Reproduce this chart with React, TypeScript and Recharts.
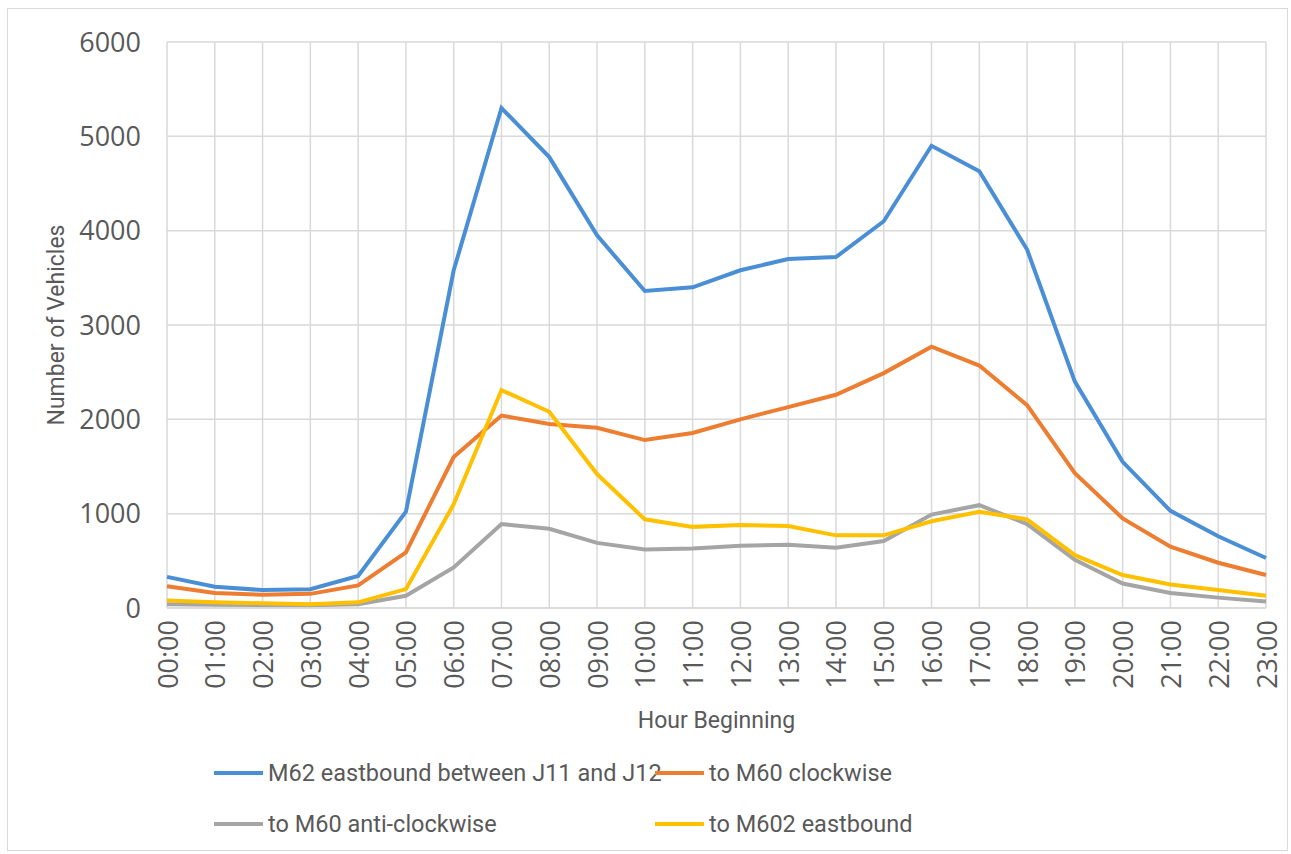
import { LineChart, Line, XAxis, YAxis, CartesianGrid, Legend, Label } from "recharts";

const hours = [
  "00:00", "01:00", "02:00", "03:00", "04:00", "05:00", "06:00", "07:00",
  "08:00", "09:00", "10:00", "11:00", "12:00", "13:00", "14:00", "15:00",
  "16:00", "17:00", "18:00", "19:00", "20:00", "21:00", "22:00", "23:00",
];

const m62Eastbound = [
  330, 225, 190, 200, 340, 1020, 3580, 5300, 4780, 3950, 3360, 3400,
  3580, 3700, 3720, 4100, 4900, 4630, 3800, 2400, 1550, 1030, 760, 530,
];
const m60Clockwise = [
  230, 160, 140, 150, 240, 590, 1600, 2040, 1950, 1910, 1780, 1855,
  2000, 2130, 2260, 2490, 2770, 2570, 2150, 1430, 950, 650, 480, 350,
];
const m60AntiClockwise = [
  40, 35, 30, 30, 40, 130, 430, 890, 840, 690, 620, 630,
  660, 670, 640, 710, 990, 1090, 890, 510, 260, 160, 110, 70,
];
const m602Eastbound = [
  80, 60, 50, 40, 60, 200, 1100, 2310, 2080, 1420, 940, 860,
  880, 870, 770, 770, 920, 1020, 940, 560, 350, 250, 190, 130,
];

const yTicks = [0, 1000, 2000, 3000, 4000, 5000, 6000];

const series = [
  { key: "m62", name: "M62 eastbound between J11 and J12", color: "#4A8FD6" },
  { key: "m60cw", name: "to M60 clockwise", color: "#ED7D31" },
  { key: "m60acw", name: "to M60 anti-clockwise", color: "#A5A5A5" },
  { key: "m602", name: "to M602 eastbound", color: "#FFC000" },
];

const data = hours.map((hour, i) => ({
  hour,
  m62: m62Eastbound[i],
  m60cw: m60Clockwise[i],
  m60acw: m60AntiClockwise[i],
  m602: m602Eastbound[i],
}));

const TICK_FONT = "'Open Sans', 'DejaVu Sans', sans-serif";
const TEXT_FONT = "Roboto, 'Noto Sans', sans-serif";
const TEXT_COLOR = "#595959";

function HourTick({ x, y, payload }: any) {
  return (
    <g transform={`translate(${x},${y})`}>
      <text
        transform="rotate(-90)"
        textAnchor="end"
        dominantBaseline="central"
        fontFamily={TICK_FONT}
        fontSize={27}
        fill={TEXT_COLOR}
      >
        {payload.value}
      </text>
    </g>
  );
}

// two-by-two legend: blue/orange on the first row, grey/yellow on the second
function LegendGrid() {
  const item = (s: (typeof series)[number]) => (
    <div key={s.key} style={{ display: "flex", alignItems: "center", width: 441, height: 30 }}>
      <span style={{ display: "inline-block", flexShrink: 0, width: 49, height: 4, background: s.color }} />
      <span
        style={{
          marginLeft: 5,
          fontFamily: TEXT_FONT,
          fontSize: 23.5,
          color: TEXT_COLOR,
          whiteSpace: "nowrap",
        }}
      >
        {s.name}
      </span>
    </div>
  );
  return (
    <div style={{ display: "flex", flexWrap: "wrap", width: 882, rowGap: 21 }}>
      {series.map(item)}
    </div>
  );
}

export default function App() {
  return (
    <div style={{ position: "absolute", left: 0, top: 0, width: 1291, height: 854, background: "#fff" }}>
      <div
        style={{
          position: "absolute",
          left: 7,
          top: 8,
          width: 1279,
          height: 841,
          border: "1px solid #d9d9d9",
        }}
      />
      <LineChart
        width={1291}
        height={854}
        data={data}
        margin={{ top: 42, right: 25, bottom: 116, left: 0 }}
      >
        <CartesianGrid stroke="#d9d9d9" strokeWidth={1.5} />
        <XAxis
          dataKey="hour"
          interval={0}
          height={130}
          tick={<HourTick />}
          tickLine={false}
          tickMargin={6}
          axisLine={{ stroke: "#d9d9d9", strokeWidth: 1.5 }}
        >
          <Label
            content={({ viewBox }: any) => (
              <text
                x={viewBox.x + viewBox.width / 2}
                y={viewBox.y + 112}
                textAnchor="middle"
                dominantBaseline="central"
                fontFamily={TEXT_FONT}
                fontSize={23}
                fill={TEXT_COLOR}
              >
                Hour Beginning
              </text>
            )}
          />
        </XAxis>
        <YAxis
          width={167}
          domain={[0, 6000]}
          ticks={yTicks}
          interval={0}
          tickLine={false}
          axisLine={false}
          tickMargin={20}
          tick={{ fontFamily: TICK_FONT, fontSize: 27, fill: TEXT_COLOR }}
        >
          <Label
            content={({ viewBox }: any) => {
              const cx = viewBox.x + 56;
              const cy = viewBox.y + viewBox.height / 2;
              return (
                <text
                  x={cx}
                  y={cy}
                  transform={`rotate(-90 ${cx} ${cy})`}
                  textAnchor="middle"
                  dominantBaseline="central"
                  fontFamily={TEXT_FONT}
                  fontSize={23}
                  fill={TEXT_COLOR}
                >
                  Number of Vehicles
                </text>
              );
            }}
          />
        </YAxis>
        <Legend
          layout="horizontal"
          verticalAlign="middle"
          align="center"
          content={<LegendGrid />}
          wrapperStyle={{ top: 758, left: 214, width: 882 }}
        />
        {series.map((s) => (
          <Line
            key={s.key}
            type="linear"
            dataKey={s.key}
            name={s.name}
            stroke={s.color}
            strokeWidth={4}
            dot={false}
            activeDot={false}
            isAnimationActive={false}
          />
        ))}
      </LineChart>
    </div>
  );
}
